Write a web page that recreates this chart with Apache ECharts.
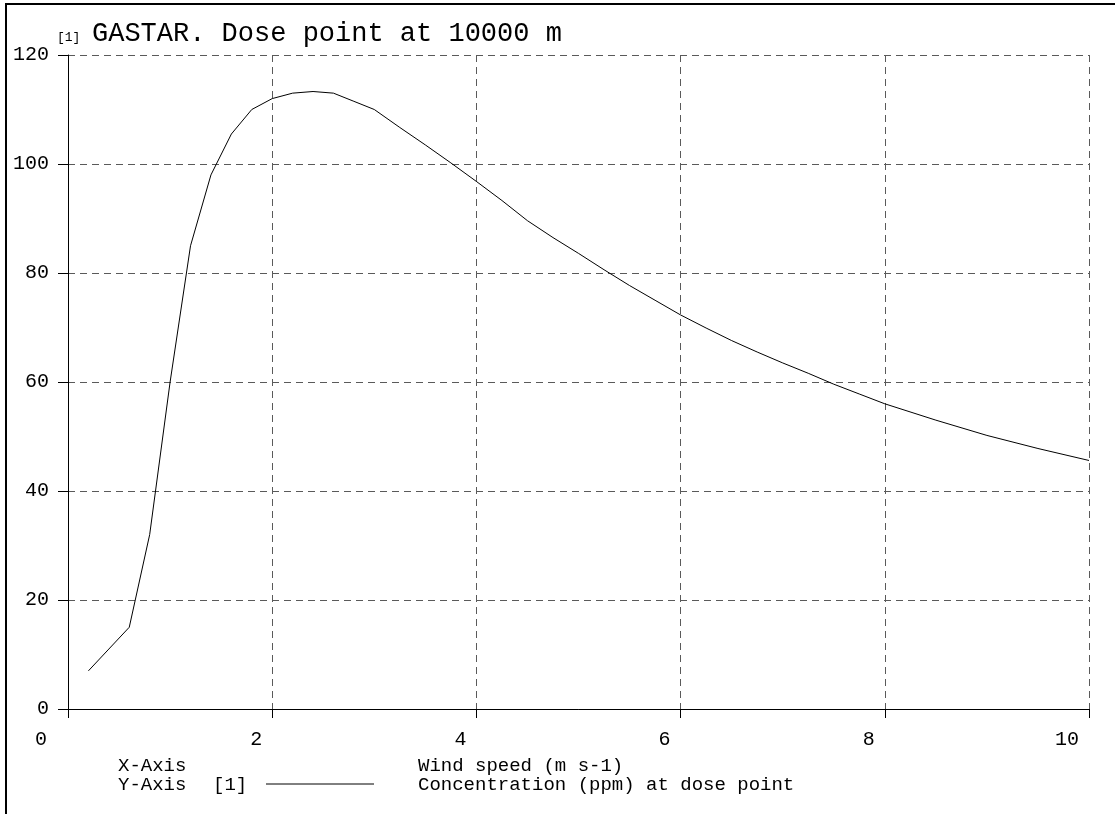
<!DOCTYPE html>
<html>
<head>
<meta charset="utf-8">
<script src="https://cdn.jsdelivr.net/npm/echarts@6/dist/echarts.min.js"></script>
<style>
  html, body { margin: 0; padding: 0; background: #fff; }
  #chart { width: 1115px; height: 814px; }
</style>
</head>
<body>
<div id="chart"></div>
<script>
// ---- data ----
const windSpeed = [0.2, 0.4, 0.6, 0.8, 1.0, 1.2, 1.4, 1.6, 1.8, 2.0, 2.2, 2.4, 2.6, 2.8, 3.0,
  3.25, 3.5, 3.75, 4.0, 4.25, 4.5, 4.75, 5.0, 5.25, 5.5, 5.75, 6.0, 6.25, 6.5, 6.75,
  7.0, 7.25, 7.5, 7.75, 8.0, 8.5, 9.0, 9.5, 10.0];
const concentration = [7, 11, 15, 32, 60, 85, 98, 105.5, 110, 112, 113, 113.3, 113, 111.5, 110,
  106.7, 103.5, 100.2, 96.8, 93.3, 89.6, 86.5, 83.6, 80.6, 77.7, 75, 72.3, 69.9, 67.6, 65.5,
  63.5, 61.6, 59.6, 57.8, 56.0, 53.0, 50.2, 47.8, 45.6];
const xTicks = [0, 2, 4, 6, 8, 10];
const yTicks = [0, 20, 40, 60, 80, 100, 120];
const titleTag = '[1]';
const titleText = 'GASTAR. Dose point at 10000 m';
const xAxisName = 'Wind speed (m s-1)';
const yAxisName = 'Concentration (ppm) at dose point';

const FONT = '"Liberation Mono", "DejaVu Sans Mono", monospace';
const chart = echarts.init(document.getElementById('chart'), null, { renderer: 'canvas' });

const points = windSpeed.map((x, i) => [x, concentration[i]]);
const gridLine = { show: true, lineStyle: { color: '#5a5a5a', width: 1, type: [7, 5] } };

chart.setOption({
  animation: false,
  backgroundColor: '#ffffff',
  grid: { left: 68, right: 26, top: 55, bottom: 105, containLabel: false },
  xAxis: {
    type: 'value', min: xTicks[0], max: xTicks[xTicks.length - 1], interval: 2,
    axisLine: { show: true, onZero: false, lineStyle: { color: '#000', width: 1 } },
    axisTick: { show: true, length: 9, lineStyle: { color: '#000' } },
    splitLine: gridLine,
    axisLabel: {
      color: '#000', fontFamily: FONT, fontSize: 20, margin: 21,
      align: 'right', padding: [0, 10, 0, 0],
      formatter: v => v === 0 ? '{z|0}' : String(v),
      rich: { z: { fontFamily: FONT, fontSize: 20, color: '#000', padding: [0, 11, 0, 0] } }
    }
  },
  yAxis: {
    type: 'value', min: yTicks[0], max: yTicks[yTicks.length - 1], interval: 20,
    axisLine: { show: true, onZero: false, lineStyle: { color: '#000', width: 1 } },
    axisTick: { show: true, length: 10, lineStyle: { color: '#000' } },
    splitLine: gridLine,
    axisLabel: { color: '#000', fontFamily: FONT, fontSize: 20, margin: 19 }
  },
  series: [{
    type: 'line', data: points, showSymbol: false, symbol: 'none',
    lineStyle: { color: '#000', width: 1 }, z: 5
  }],
  graphic: [
    { type: 'rect', shape: { x: 6, y: 4, width: 1120, height: 830 }, style: { fill: null, stroke: '#000', lineWidth: 2 }, silent: true },
    { type: 'text', left: 57, top: 31, style: { text: titleTag, font: '13px ' + FONT, fill: '#000' } },
    { type: 'text', left: 92, top: 20, style: { text: titleText, font: '27px ' + FONT, fill: '#000' } },
    { type: 'text', left: 118, top: 756, style: { text: 'X-Axis', font: '19px ' + FONT, fill: '#000' } },
    { type: 'text', left: 118, top: 775, style: { text: 'Y-Axis', font: '19px ' + FONT, fill: '#000' } },
    { type: 'text', left: 213, top: 775, style: { text: '[1]', font: '19px ' + FONT, fill: '#000' } },
    { type: 'line', shape: { x1: 266, y1: 784, x2: 374, y2: 784 }, style: { stroke: '#000', lineWidth: 1 } },
    { type: 'text', left: 418, top: 756, style: { text: xAxisName, font: '19px ' + FONT, fill: '#000' } },
    { type: 'text', left: 418, top: 775, style: { text: yAxisName, font: '19px ' + FONT, fill: '#000' } }
  ]
});
</script>
</body>
</html>
